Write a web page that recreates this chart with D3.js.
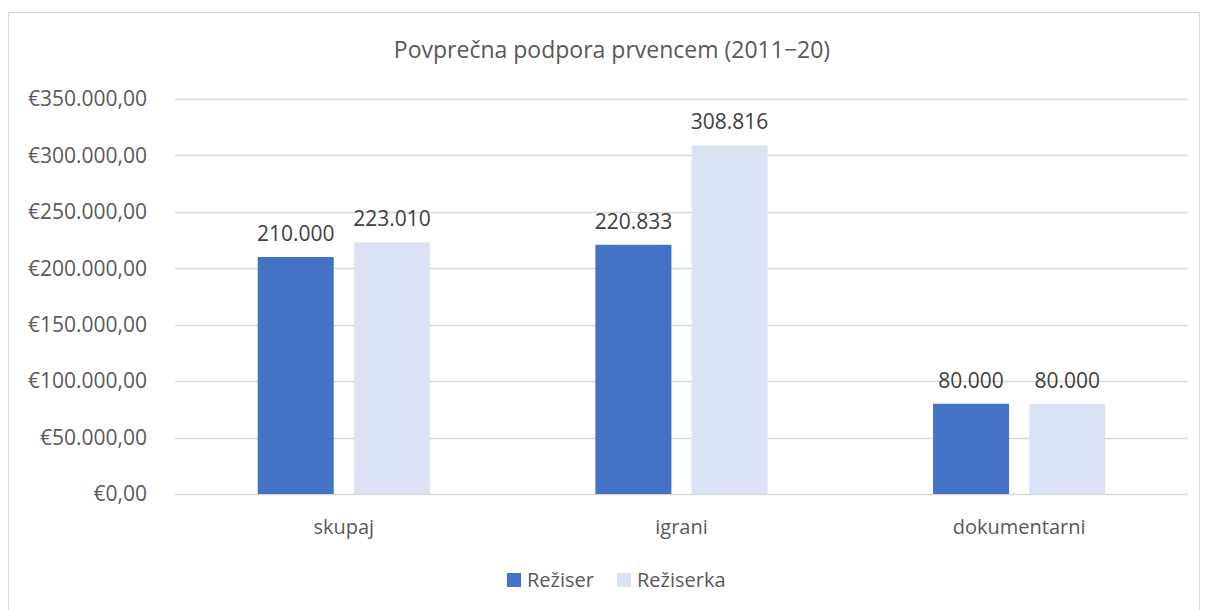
<!DOCTYPE html>
<html>
<head>
<meta charset="utf-8">
<script src="https://cdn.jsdelivr.net/npm/d3@7"></script>
<style>
  body { margin: 0; background: #fff; }
  text { font-family: "Open Sans", sans-serif; }
</style>
</head>
<body>
<div id="chart"></div>
<script>
const categories = ["skupaj", "igrani", "dokumentarni"];
const seriesNames = ["Režiser", "Režiserka"];
const reziser = [210000, 220833, 80000];
const reziserka = [223010, 308816, 80000];
const yTicks = [0, 50000, 100000, 150000, 200000, 250000, 300000, 350000];
const colors = ["#4472C4", "#DAE3F3"];

const width = 1208, height = 610;
const margin = { top: 99, right: 20, bottom: 116, left: 175 };

const svg = d3.select("#chart").append("svg")
  .attr("width", width)
  .attr("height", height);

// outer frame
svg.append("rect")
  .attr("x", 8.5).attr("y", 12.5)
  .attr("width", 1191).attr("height", 610)
  .attr("fill", "#fff")
  .attr("stroke", "#D9D9D9");

const x0 = d3.scaleBand()
  .domain(categories)
  .range([margin.left, 1188])
  .paddingInner(0.49)
  .paddingOuter(0.245);

const x1 = d3.scaleBand()
  .domain(seriesNames)
  .range([0, x0.bandwidth()])
  .paddingInner(0.21);

const y = d3.scaleLinear()
  .domain([0, 350000])
  .range([494, 99]);

const fmtAxis = v => "€" + d3.format(",.2f")(v).replace(/,/g, "#").replace(/\./g, ",").replace(/#/g, ".");
const fmtLabel = v => d3.format(",")(v).replace(/,/g, ".");

// gridlines
svg.append("g")
  .selectAll("line")
  .data(yTicks)
  .join("line")
  .attr("x1", margin.left).attr("x2", 1188)
  .attr("y1", d => Math.round(y(d)) + 0.5)
  .attr("y2", d => Math.round(y(d)) + 0.5)
  .attr("stroke", "#D9D9D9")
  .attr("stroke-width", 1.5);

// y labels
svg.append("g")
  .selectAll("text")
  .data(yTicks)
  .join("text")
  .attr("x", 147)
  .attr("y", d => y(d))
  .attr("dy", "0.35em")
  .attr("text-anchor", "end")
  .attr("font-size", 21)
  .attr("fill", "#595959")
  .text(fmtAxis);

const rows = categories.map((c, i) => ({ cat: c, values: [reziser[i], reziserka[i]] }));

const groups = svg.append("g")
  .selectAll("g")
  .data(rows)
  .join("g")
  .attr("transform", d => "translate(" + x0(d.cat) + ",0)");

groups.selectAll("rect")
  .data(d => d.values.map((v, j) => ({ name: seriesNames[j], value: v, j: j })))
  .join("rect")
  .attr("x", d => x1(d.name))
  .attr("y", d => y(d.value))
  .attr("width", x1.bandwidth())
  .attr("height", d => y(0) - y(d.value))
  .attr("fill", d => colors[d.j]);

groups.selectAll("text")
  .data(d => d.values.map((v, j) => ({ name: seriesNames[j], value: v, j: j })))
  .join("text")
  .attr("x", d => x1(d.name) + x1.bandwidth() / 2)
  .attr("y", d => y(d.value) - 16)
  .attr("text-anchor", "middle")
  .attr("font-size", 21)
  .attr("fill", "#404040")
  .text(d => fmtLabel(d.value));

// category labels
svg.append("g")
  .selectAll("text")
  .data(categories)
  .join("text")
  .attr("x", d => x0(d) + x0.bandwidth() / 2)
  .attr("y", 534)
  .attr("text-anchor", "middle")
  .attr("font-size", 20)
  .attr("fill", "#595959")
  .text(d => d);

// title
svg.append("text")
  .attr("x", 612)
  .attr("y", 58)
  .attr("text-anchor", "middle")
  .attr("font-size", 23)
  .attr("fill", "#595959")
  .text("Povprečna podpora prvencem (2011−20)");

// legend
const legendX = [507, 617];
const legend = svg.append("g")
  .selectAll("g")
  .data(seriesNames)
  .join("g")
  .attr("transform", (d, i) => "translate(" + legendX[i] + ",573)");

legend.append("rect")
  .attr("width", 14).attr("height", 14)
  .attr("fill", (d, i) => colors[i]);

legend.append("text")
  .attr("x", 20)
  .attr("y", 14)
  .attr("font-size", 20)
  .attr("fill", "#595959")
  .text(d => d);
</script>
</body>
</html>
